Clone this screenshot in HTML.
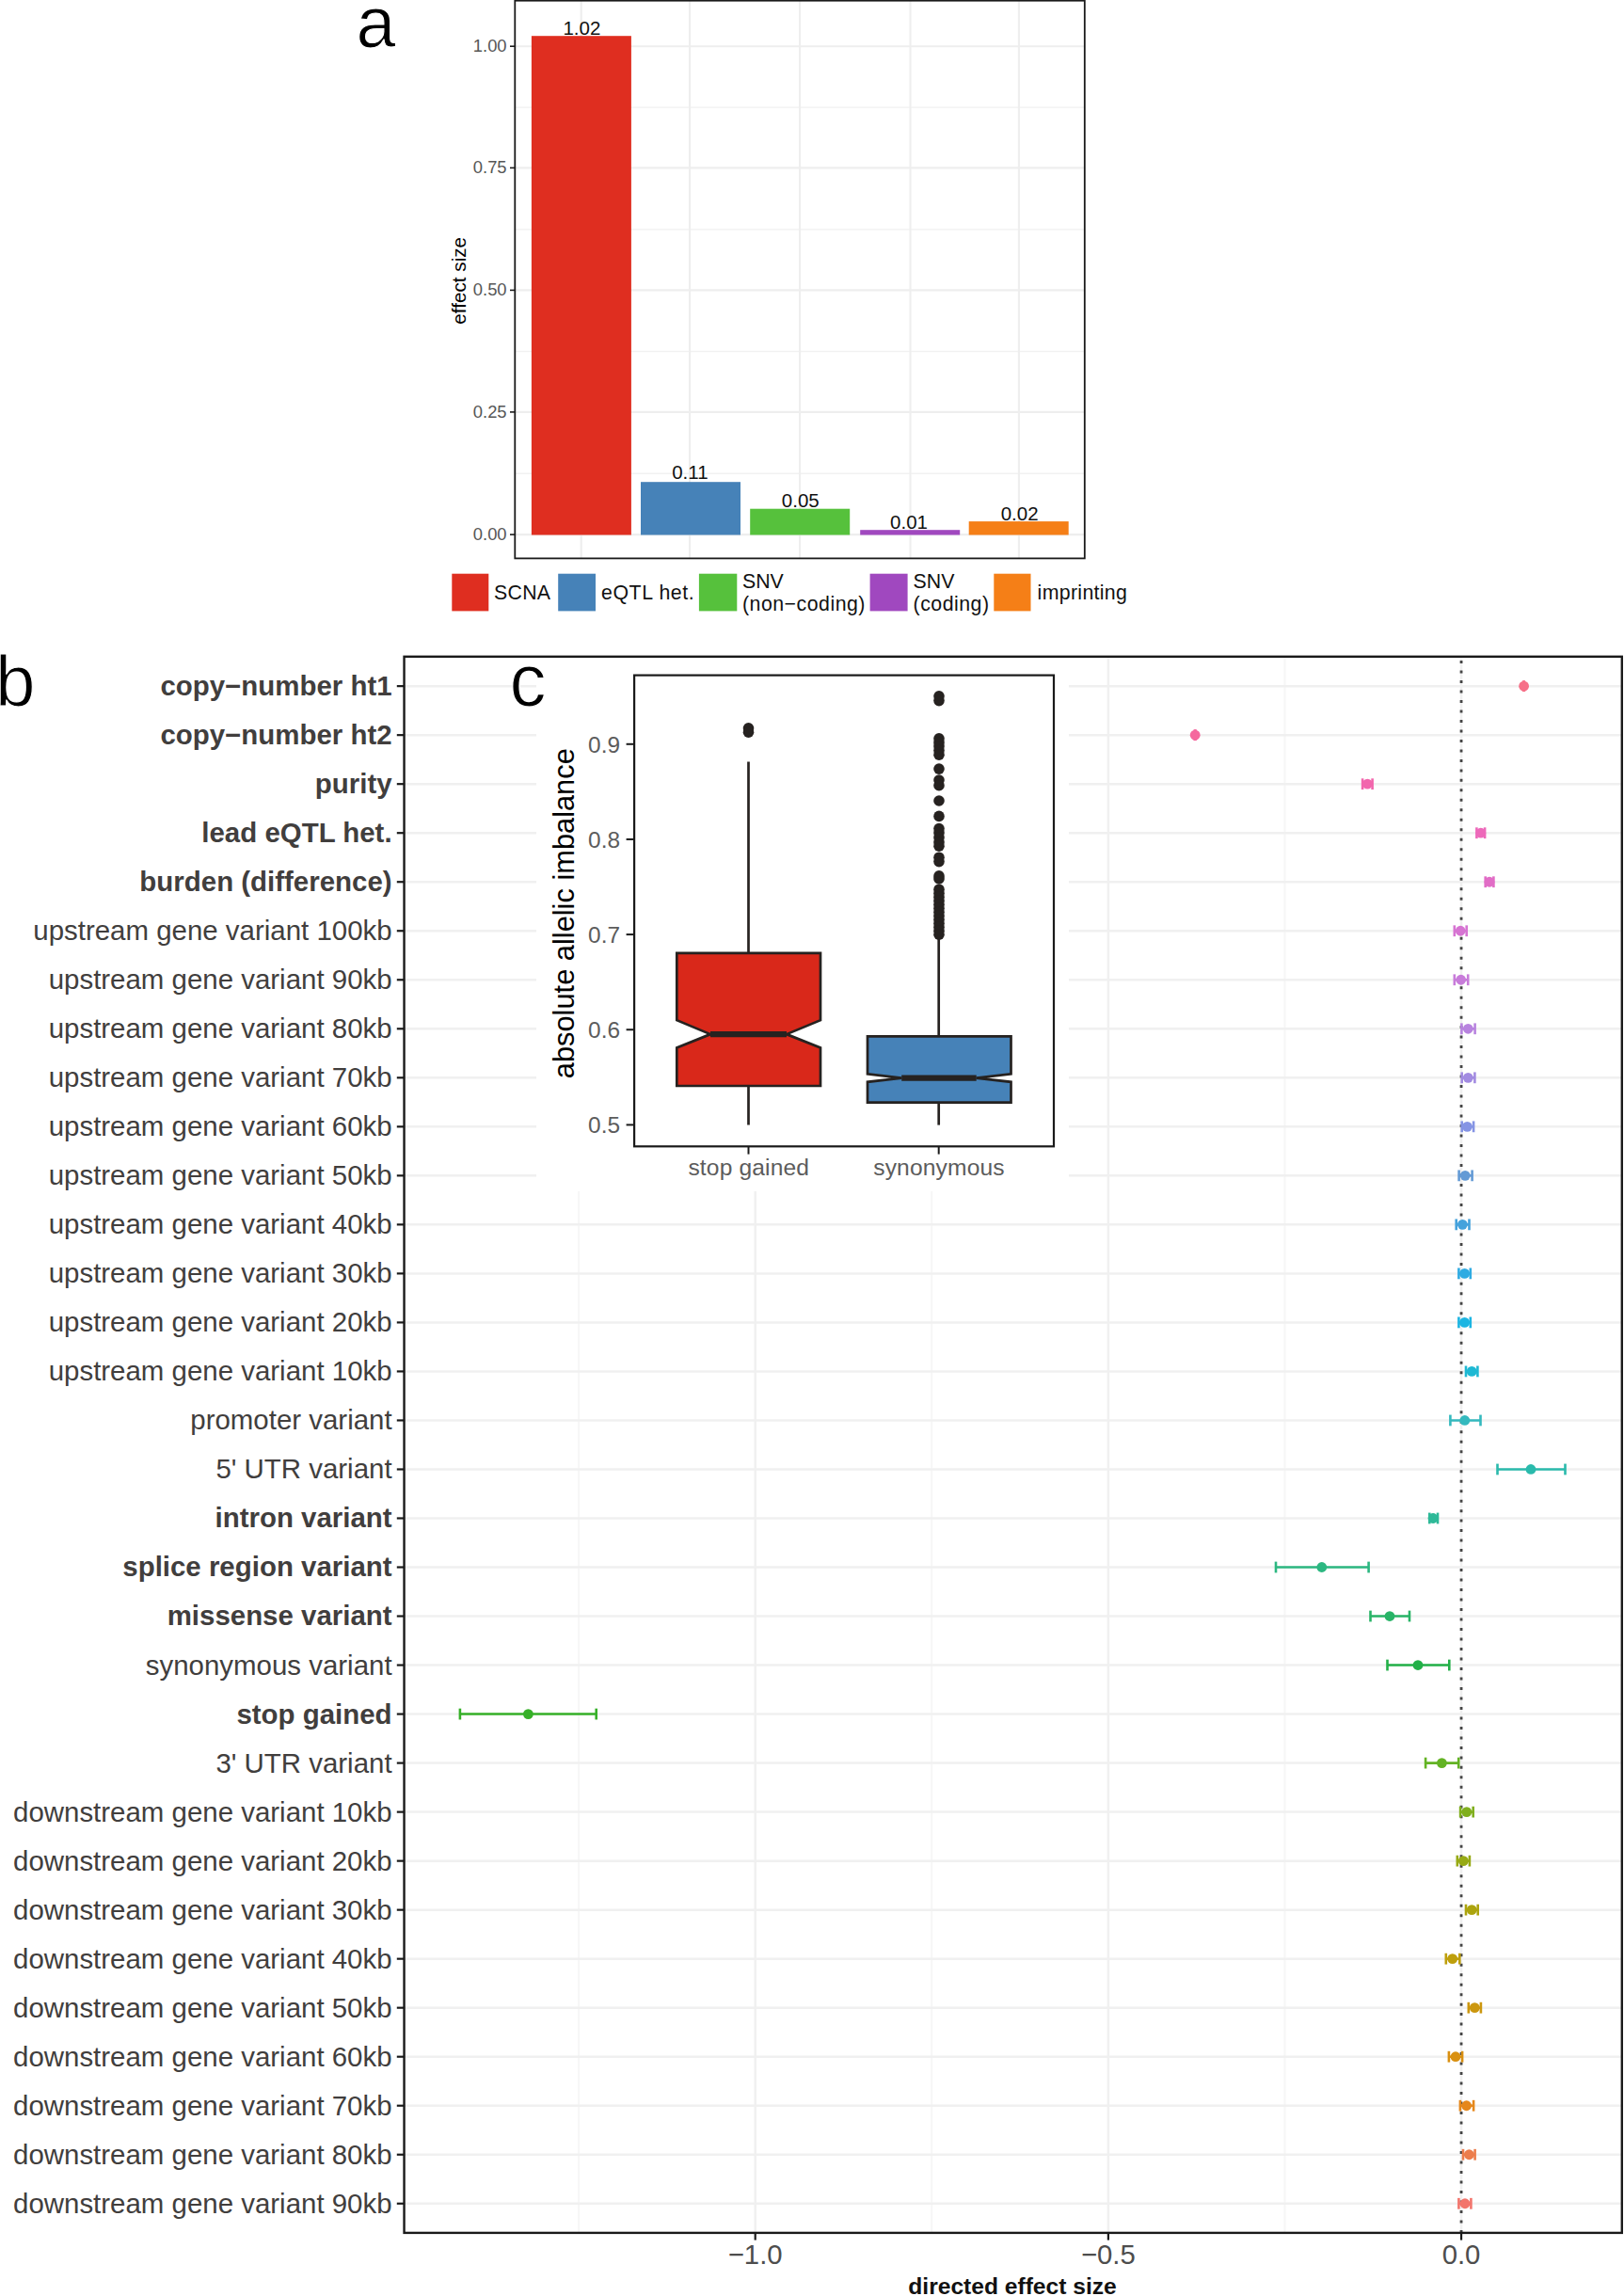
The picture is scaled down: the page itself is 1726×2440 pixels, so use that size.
<!DOCTYPE html>
<html lang="en"><head><meta charset="utf-8"><title>Figure</title>
<style>
html,body{margin:0;padding:0;background:#fff;}
body{width:1726px;height:2440px;overflow:hidden;}
svg{display:block;font-family:"Liberation Sans", sans-serif;}
</style></head><body>
<svg width="1726" height="2440" viewBox="0 0 1726 2440">
<rect width="1726" height="2440" fill="#fff"/>
<g id="panel-a">
<line x1="547.3" x2="1152.8" y1="503.24" y2="503.24" stroke="#F1F1F1" stroke-width="1.3"/>
<line x1="547.3" x2="1152.8" y1="373.51" y2="373.51" stroke="#F1F1F1" stroke-width="1.3"/>
<line x1="547.3" x2="1152.8" y1="243.79" y2="243.79" stroke="#F1F1F1" stroke-width="1.3"/>
<line x1="547.3" x2="1152.8" y1="114.06" y2="114.06" stroke="#F1F1F1" stroke-width="1.3"/>
<line x1="547.3" x2="1152.8" y1="568.10" y2="568.10" stroke="#EEEEEE" stroke-width="2.1"/>
<line x1="547.3" x2="1152.8" y1="437.90" y2="437.90" stroke="#EEEEEE" stroke-width="2.1"/>
<line x1="547.3" x2="1152.8" y1="308.40" y2="308.40" stroke="#EEEEEE" stroke-width="2.1"/>
<line x1="547.3" x2="1152.8" y1="178.40" y2="178.40" stroke="#EEEEEE" stroke-width="2.1"/>
<line x1="547.3" x2="1152.8" y1="49.20" y2="49.20" stroke="#EEEEEE" stroke-width="2.1"/>
<line x1="617.7" x2="617.7" y1="0.7" y2="593.4" stroke="#EEEEEE" stroke-width="2.1"/>
<line x1="733.1" x2="733.1" y1="0.7" y2="593.4" stroke="#EEEEEE" stroke-width="2.1"/>
<line x1="850.1" x2="850.1" y1="0.7" y2="593.4" stroke="#EEEEEE" stroke-width="2.1"/>
<line x1="967.5" x2="967.5" y1="0.7" y2="593.4" stroke="#EEEEEE" stroke-width="2.1"/>
<line x1="1082.9" x2="1082.9" y1="0.7" y2="593.4" stroke="#EEEEEE" stroke-width="2.1"/>
<rect x="564.9" y="38.2" width="106.0" height="530.3" fill="#DF2E20"/>
<text x="618.4" y="36.6" font-size="20.5" text-anchor="middle" fill="#111">1.02</text>
<rect x="681.0" y="512.2" width="106.0" height="56.3" fill="#4682B8"/>
<text x="733.4" y="509.0" font-size="20.5" text-anchor="middle" fill="#111">0.11</text>
<rect x="797.2" y="540.7" width="106.0" height="27.8" fill="#56C13C"/>
<text x="850.8" y="538.8" font-size="20.5" text-anchor="middle" fill="#111">0.05</text>
<rect x="914.2" y="563.2" width="106.0" height="5.3" fill="#A048BF"/>
<text x="966.0" y="561.6" font-size="20.5" text-anchor="middle" fill="#111">0.01</text>
<rect x="1029.7" y="554.1" width="106.0" height="14.4" fill="#F57F17"/>
<text x="1083.6" y="552.5" font-size="20.5" text-anchor="middle" fill="#111">0.02</text>
<rect x="547.3" y="0.7" width="605.5" height="592.7" fill="none" stroke="#1A1A1A" stroke-width="1.8"/>
<line x1="542" x2="547.3" y1="568.10" y2="568.10" stroke="#1A1A1A" stroke-width="1.6"/>
<text x="538.6" y="574.0" font-size="18.4" text-anchor="end" fill="#575757">0.00</text>
<line x1="542" x2="547.3" y1="437.90" y2="437.90" stroke="#1A1A1A" stroke-width="1.6"/>
<text x="538.6" y="443.8" font-size="18.4" text-anchor="end" fill="#575757">0.25</text>
<line x1="542" x2="547.3" y1="308.40" y2="308.40" stroke="#1A1A1A" stroke-width="1.6"/>
<text x="538.6" y="314.3" font-size="18.4" text-anchor="end" fill="#575757">0.50</text>
<line x1="542" x2="547.3" y1="178.40" y2="178.40" stroke="#1A1A1A" stroke-width="1.6"/>
<text x="538.6" y="184.3" font-size="18.4" text-anchor="end" fill="#575757">0.75</text>
<line x1="542" x2="547.3" y1="49.20" y2="49.20" stroke="#1A1A1A" stroke-width="1.6"/>
<text x="538.6" y="55.1" font-size="18.4" text-anchor="end" fill="#575757">1.00</text>
<text transform="translate(494.7,298.3) rotate(-90)" font-size="20.7" text-anchor="middle" fill="#000">effect size</text>
<rect x="480.3" y="609.7" width="39.0" height="39.7" fill="#DF2E20"/>
<rect x="593.2" y="609.7" width="39.8" height="39.7" fill="#4682B8"/>
<rect x="742.9" y="609.7" width="40.4" height="39.7" fill="#56C13C"/>
<rect x="924.6" y="609.7" width="40.0" height="39.7" fill="#A048BF"/>
<rect x="1056.3" y="609.7" width="39.2" height="39.7" fill="#F57F17"/>
<text x="525.0" y="637.3" font-size="21.3" letter-spacing="0.3" fill="#111">SCNA</text>
<text x="639.0" y="637.3" font-size="21.3" letter-spacing="0.6" fill="#111">eQTL het.</text>
<text x="789.0" y="624.9" font-size="21.3" fill="#111">SNV</text>
<text x="789.0" y="649.2" font-size="21.3" letter-spacing="0.5" fill="#111">(non−coding)</text>
<text x="970.6" y="624.9" font-size="21.3" fill="#111">SNV</text>
<text x="970.6" y="649.2" font-size="21.3" letter-spacing="0.5" fill="#111">(coding)</text>
<text x="1102.6" y="637.3" font-size="21.3" letter-spacing="0.33" fill="#111">imprinting</text>
</g>
<text x="378.6" y="49.6" font-size="75.5" fill="#000" stroke="#fff" stroke-width="1.1">a</text>
<g id="panel-b">
<line x1="615.11" x2="615.11" y1="697.8" y2="2372.9" stroke="#F6F6F6" stroke-width="2"/>
<line x1="990.29" x2="990.29" y1="697.8" y2="2372.9" stroke="#F6F6F6" stroke-width="2"/>
<line x1="1365.46" x2="1365.46" y1="697.8" y2="2372.9" stroke="#F6F6F6" stroke-width="2"/>
<line x1="802.70" x2="802.70" y1="697.8" y2="2372.9" stroke="#F0F0F0" stroke-width="2.5"/>
<line x1="1177.88" x2="1177.88" y1="697.8" y2="2372.9" stroke="#F0F0F0" stroke-width="2.5"/>
<line x1="1553.05" x2="1553.05" y1="697.8" y2="2372.9" stroke="#F0F0F0" stroke-width="2.5"/>
<line x1="429.55" x2="1723.8" y1="729.15" y2="729.15" stroke="#F0F0F0" stroke-width="2.5"/>
<line x1="429.55" x2="1723.8" y1="781.17" y2="781.17" stroke="#F0F0F0" stroke-width="2.5"/>
<line x1="429.55" x2="1723.8" y1="833.19" y2="833.19" stroke="#F0F0F0" stroke-width="2.5"/>
<line x1="429.55" x2="1723.8" y1="885.21" y2="885.21" stroke="#F0F0F0" stroke-width="2.5"/>
<line x1="429.55" x2="1723.8" y1="937.23" y2="937.23" stroke="#F0F0F0" stroke-width="2.5"/>
<line x1="429.55" x2="1723.8" y1="989.25" y2="989.25" stroke="#F0F0F0" stroke-width="2.5"/>
<line x1="429.55" x2="1723.8" y1="1041.27" y2="1041.27" stroke="#F0F0F0" stroke-width="2.5"/>
<line x1="429.55" x2="1723.8" y1="1093.29" y2="1093.29" stroke="#F0F0F0" stroke-width="2.5"/>
<line x1="429.55" x2="1723.8" y1="1145.31" y2="1145.31" stroke="#F0F0F0" stroke-width="2.5"/>
<line x1="429.55" x2="1723.8" y1="1197.33" y2="1197.33" stroke="#F0F0F0" stroke-width="2.5"/>
<line x1="429.55" x2="1723.8" y1="1249.35" y2="1249.35" stroke="#F0F0F0" stroke-width="2.5"/>
<line x1="429.55" x2="1723.8" y1="1301.37" y2="1301.37" stroke="#F0F0F0" stroke-width="2.5"/>
<line x1="429.55" x2="1723.8" y1="1353.39" y2="1353.39" stroke="#F0F0F0" stroke-width="2.5"/>
<line x1="429.55" x2="1723.8" y1="1405.41" y2="1405.41" stroke="#F0F0F0" stroke-width="2.5"/>
<line x1="429.55" x2="1723.8" y1="1457.43" y2="1457.43" stroke="#F0F0F0" stroke-width="2.5"/>
<line x1="429.55" x2="1723.8" y1="1509.45" y2="1509.45" stroke="#F0F0F0" stroke-width="2.5"/>
<line x1="429.55" x2="1723.8" y1="1561.47" y2="1561.47" stroke="#F0F0F0" stroke-width="2.5"/>
<line x1="429.55" x2="1723.8" y1="1613.49" y2="1613.49" stroke="#F0F0F0" stroke-width="2.5"/>
<line x1="429.55" x2="1723.8" y1="1665.51" y2="1665.51" stroke="#F0F0F0" stroke-width="2.5"/>
<line x1="429.55" x2="1723.8" y1="1717.53" y2="1717.53" stroke="#F0F0F0" stroke-width="2.5"/>
<line x1="429.55" x2="1723.8" y1="1769.55" y2="1769.55" stroke="#F0F0F0" stroke-width="2.5"/>
<line x1="429.55" x2="1723.8" y1="1821.57" y2="1821.57" stroke="#F0F0F0" stroke-width="2.5"/>
<line x1="429.55" x2="1723.8" y1="1873.59" y2="1873.59" stroke="#F0F0F0" stroke-width="2.5"/>
<line x1="429.55" x2="1723.8" y1="1925.61" y2="1925.61" stroke="#F0F0F0" stroke-width="2.5"/>
<line x1="429.55" x2="1723.8" y1="1977.63" y2="1977.63" stroke="#F0F0F0" stroke-width="2.5"/>
<line x1="429.55" x2="1723.8" y1="2029.65" y2="2029.65" stroke="#F0F0F0" stroke-width="2.5"/>
<line x1="429.55" x2="1723.8" y1="2081.67" y2="2081.67" stroke="#F0F0F0" stroke-width="2.5"/>
<line x1="429.55" x2="1723.8" y1="2133.69" y2="2133.69" stroke="#F0F0F0" stroke-width="2.5"/>
<line x1="429.55" x2="1723.8" y1="2185.71" y2="2185.71" stroke="#F0F0F0" stroke-width="2.5"/>
<line x1="429.55" x2="1723.8" y1="2237.73" y2="2237.73" stroke="#F0F0F0" stroke-width="2.5"/>
<line x1="429.55" x2="1723.8" y1="2289.75" y2="2289.75" stroke="#F0F0F0" stroke-width="2.5"/>
<line x1="429.55" x2="1723.8" y1="2341.77" y2="2341.77" stroke="#F0F0F0" stroke-width="2.5"/>
<line x1="1553.05" x2="1553.05" y1="2372.9" y2="697.8" stroke="#454545" stroke-width="2.8" stroke-dasharray="3 7.49"/>
<g id="b-data">
<g stroke="#F67088" stroke-width="2.6" fill="#F67088"><line x1="1619.2" x2="1620.0" y1="729.15" y2="729.15"/><line x1="1619.4" x2="1619.4" y1="723.25" y2="735.05"/><line x1="1619.8" x2="1619.8" y1="723.25" y2="735.05"/><circle cx="1619.6" cy="729.15" r="5.4" stroke="none"/></g>
<g stroke="#F5689E" stroke-width="2.6" fill="#F5689E"><line x1="1269.6" x2="1270.8" y1="781.17" y2="781.17"/><line x1="1269.8" x2="1269.8" y1="775.27" y2="787.07"/><line x1="1270.6" x2="1270.6" y1="775.27" y2="787.07"/><circle cx="1270.2" cy="781.17" r="5.4" stroke="none"/></g>
<g stroke="#F266AD" stroke-width="2.6" fill="#F266AD"><line x1="1447.9" x2="1458.8" y1="833.19" y2="833.19"/><line x1="1448.1" x2="1448.1" y1="827.29" y2="839.09"/><line x1="1458.6" x2="1458.6" y1="827.29" y2="839.09"/><circle cx="1453.3" cy="833.19" r="5.4" stroke="none"/></g>
<g stroke="#ED69BA" stroke-width="2.6" fill="#ED69BA"><line x1="1569.2" x2="1578.3" y1="885.21" y2="885.21"/><line x1="1569.4" x2="1569.4" y1="879.31" y2="891.11"/><line x1="1578.1" x2="1578.1" y1="879.31" y2="891.11"/><circle cx="1573.8" cy="885.21" r="5.4" stroke="none"/></g>
<g stroke="#E16DC6" stroke-width="2.6" fill="#E16DC6"><line x1="1578.5" x2="1587.6" y1="937.23" y2="937.23"/><line x1="1578.7" x2="1578.7" y1="931.33" y2="943.13"/><line x1="1587.4" x2="1587.4" y1="931.33" y2="943.13"/><circle cx="1583.0" cy="937.23" r="5.4" stroke="none"/></g>
<g stroke="#D674D2" stroke-width="2.6" fill="#D674D2"><line x1="1545.6" x2="1558.9" y1="989.25" y2="989.25"/><line x1="1545.8" x2="1545.8" y1="983.35" y2="995.15"/><line x1="1558.7" x2="1558.7" y1="983.35" y2="995.15"/><circle cx="1552.2" cy="989.25" r="5.4" stroke="none"/></g>
<g stroke="#C87CDA" stroke-width="2.6" fill="#C87CDA"><line x1="1545.6" x2="1560.4" y1="1041.27" y2="1041.27"/><line x1="1545.8" x2="1545.8" y1="1035.37" y2="1047.17"/><line x1="1560.2" x2="1560.2" y1="1035.37" y2="1047.17"/><circle cx="1552.7" cy="1041.27" r="5.4" stroke="none"/></g>
<g stroke="#B883DF" stroke-width="2.6" fill="#B883DF"><line x1="1553.2" x2="1567.8" y1="1093.29" y2="1093.29"/><line x1="1553.4" x2="1553.4" y1="1087.39" y2="1099.19"/><line x1="1567.6" x2="1567.6" y1="1087.39" y2="1099.19"/><circle cx="1560.3" cy="1093.29" r="5.4" stroke="none"/></g>
<g stroke="#A28BE1" stroke-width="2.6" fill="#A28BE1"><line x1="1553.5" x2="1567.6" y1="1145.31" y2="1145.31"/><line x1="1553.7" x2="1553.7" y1="1139.41" y2="1151.21"/><line x1="1567.4" x2="1567.4" y1="1139.41" y2="1151.21"/><circle cx="1560.3" cy="1145.31" r="5.4" stroke="none"/></g>
<g stroke="#8594E4" stroke-width="2.6" fill="#8594E4"><line x1="1553.5" x2="1566.3" y1="1197.33" y2="1197.33"/><line x1="1553.7" x2="1553.7" y1="1191.43" y2="1203.23"/><line x1="1566.1" x2="1566.1" y1="1191.43" y2="1203.23"/><circle cx="1559.4" cy="1197.33" r="5.4" stroke="none"/></g>
<g stroke="#639AD5" stroke-width="2.6" fill="#639AD5"><line x1="1550.4" x2="1564.8" y1="1249.35" y2="1249.35"/><line x1="1550.6" x2="1550.6" y1="1243.45" y2="1255.25"/><line x1="1564.6" x2="1564.6" y1="1243.45" y2="1255.25"/><circle cx="1557.2" cy="1249.35" r="5.4" stroke="none"/></g>
<g stroke="#45A2DC" stroke-width="2.6" fill="#45A2DC"><line x1="1547.5" x2="1561.7" y1="1301.37" y2="1301.37"/><line x1="1547.7" x2="1547.7" y1="1295.47" y2="1307.27"/><line x1="1561.5" x2="1561.5" y1="1295.47" y2="1307.27"/><circle cx="1554.4" cy="1301.37" r="5.4" stroke="none"/></g>
<g stroke="#2FABE2" stroke-width="2.6" fill="#2FABE2"><line x1="1550.2" x2="1563.0" y1="1353.39" y2="1353.39"/><line x1="1550.4" x2="1550.4" y1="1347.49" y2="1359.29"/><line x1="1562.8" x2="1562.8" y1="1347.49" y2="1359.29"/><circle cx="1556.6" cy="1353.39" r="5.4" stroke="none"/></g>
<g stroke="#1CB5E2" stroke-width="2.6" fill="#1CB5E2"><line x1="1550.2" x2="1563.0" y1="1405.41" y2="1405.41"/><line x1="1550.4" x2="1550.4" y1="1399.51" y2="1411.31"/><line x1="1562.8" x2="1562.8" y1="1399.51" y2="1411.31"/><circle cx="1556.6" cy="1405.41" r="5.4" stroke="none"/></g>
<g stroke="#1DB8D3" stroke-width="2.6" fill="#1DB8D3"><line x1="1557.8" x2="1570.6" y1="1457.43" y2="1457.43"/><line x1="1558.0" x2="1558.0" y1="1451.53" y2="1463.33"/><line x1="1570.4" x2="1570.4" y1="1451.53" y2="1463.33"/><circle cx="1564.2" cy="1457.43" r="5.4" stroke="none"/></g>
<g stroke="#34B9BE" stroke-width="2.6" fill="#34B9BE"><line x1="1541.2" x2="1573.7" y1="1509.45" y2="1509.45"/><line x1="1541.4" x2="1541.4" y1="1503.55" y2="1515.35"/><line x1="1573.5" x2="1573.5" y1="1503.55" y2="1515.35"/><circle cx="1556.8" cy="1509.45" r="5.4" stroke="none"/></g>
<g stroke="#2ABAAC" stroke-width="2.6" fill="#2ABAAC"><line x1="1591.3" x2="1663.7" y1="1561.47" y2="1561.47"/><line x1="1591.5" x2="1591.5" y1="1555.57" y2="1567.37"/><line x1="1663.5" x2="1663.5" y1="1555.57" y2="1567.37"/><circle cx="1627.0" cy="1561.47" r="5.4" stroke="none"/></g>
<g stroke="#2EB998" stroke-width="2.6" fill="#2EB998"><line x1="1519.1" x2="1528.2" y1="1613.49" y2="1613.49"/><line x1="1519.3" x2="1519.3" y1="1607.59" y2="1619.39"/><line x1="1528.0" x2="1528.0" y1="1607.59" y2="1619.39"/><circle cx="1523.0" cy="1613.49" r="5.4" stroke="none"/></g>
<g stroke="#2CB781" stroke-width="2.6" fill="#2CB781"><line x1="1355.8" x2="1454.8" y1="1665.51" y2="1665.51"/><line x1="1356.0" x2="1356.0" y1="1659.61" y2="1671.41"/><line x1="1454.6" x2="1454.6" y1="1659.61" y2="1671.41"/><circle cx="1404.8" cy="1665.51" r="5.4" stroke="none"/></g>
<g stroke="#28B467" stroke-width="2.6" fill="#28B467"><line x1="1456.3" x2="1498.2" y1="1717.53" y2="1717.53"/><line x1="1456.5" x2="1456.5" y1="1711.63" y2="1723.43"/><line x1="1498.0" x2="1498.0" y1="1711.63" y2="1723.43"/><circle cx="1477.0" cy="1717.53" r="5.4" stroke="none"/></g>
<g stroke="#22B048" stroke-width="2.6" fill="#22B048"><line x1="1474.3" x2="1540.5" y1="1769.55" y2="1769.55"/><line x1="1474.5" x2="1474.5" y1="1763.65" y2="1775.45"/><line x1="1540.3" x2="1540.3" y1="1763.65" y2="1775.45"/><circle cx="1507.0" cy="1769.55" r="5.4" stroke="none"/></g>
<g stroke="#36B028" stroke-width="2.6" fill="#36B028"><line x1="488.7" x2="633.9" y1="1821.57" y2="1821.57"/><line x1="488.9" x2="488.9" y1="1815.67" y2="1827.47"/><line x1="633.7" x2="633.7" y1="1815.67" y2="1827.47"/><circle cx="561.4" cy="1821.57" r="5.4" stroke="none"/></g>
<g stroke="#63B324" stroke-width="2.6" fill="#63B324"><line x1="1514.9" x2="1550.4" y1="1873.59" y2="1873.59"/><line x1="1515.1" x2="1515.1" y1="1867.69" y2="1879.49"/><line x1="1550.2" x2="1550.2" y1="1867.69" y2="1879.49"/><circle cx="1532.4" cy="1873.59" r="5.4" stroke="none"/></g>
<g stroke="#80AF1E" stroke-width="2.6" fill="#80AF1E"><line x1="1551.9" x2="1565.9" y1="1925.61" y2="1925.61"/><line x1="1552.1" x2="1552.1" y1="1919.71" y2="1931.51"/><line x1="1565.7" x2="1565.7" y1="1919.71" y2="1931.51"/><circle cx="1558.8" cy="1925.61" r="5.4" stroke="none"/></g>
<g stroke="#97AA15" stroke-width="2.6" fill="#97AA15"><line x1="1548.6" x2="1562.1" y1="1977.63" y2="1977.63"/><line x1="1548.8" x2="1548.8" y1="1971.73" y2="1983.53"/><line x1="1561.9" x2="1561.9" y1="1971.73" y2="1983.53"/><circle cx="1555.3" cy="1977.63" r="5.4" stroke="none"/></g>
<g stroke="#ACA40E" stroke-width="2.6" fill="#ACA40E"><line x1="1557.8" x2="1570.9" y1="2029.65" y2="2029.65"/><line x1="1558.0" x2="1558.0" y1="2023.75" y2="2035.55"/><line x1="1570.7" x2="1570.7" y1="2023.75" y2="2035.55"/><circle cx="1564.2" cy="2029.65" r="5.4" stroke="none"/></g>
<g stroke="#BE9F0C" stroke-width="2.6" fill="#BE9F0C"><line x1="1536.6" x2="1551.5" y1="2081.67" y2="2081.67"/><line x1="1536.8" x2="1536.8" y1="2075.77" y2="2087.57"/><line x1="1551.3" x2="1551.3" y1="2075.77" y2="2087.57"/><circle cx="1543.7" cy="2081.67" r="5.4" stroke="none"/></g>
<g stroke="#CC970F" stroke-width="2.6" fill="#CC970F"><line x1="1560.6" x2="1574.1" y1="2133.69" y2="2133.69"/><line x1="1560.8" x2="1560.8" y1="2127.79" y2="2139.59"/><line x1="1573.9" x2="1573.9" y1="2127.79" y2="2139.59"/><circle cx="1567.3" cy="2133.69" r="5.4" stroke="none"/></g>
<g stroke="#D99011" stroke-width="2.6" fill="#D99011"><line x1="1539.7" x2="1554.3" y1="2185.71" y2="2185.71"/><line x1="1539.9" x2="1539.9" y1="2179.81" y2="2191.61"/><line x1="1554.1" x2="1554.1" y1="2179.81" y2="2191.61"/><circle cx="1547.0" cy="2185.71" r="5.4" stroke="none"/></g>
<g stroke="#E5871B" stroke-width="2.6" fill="#E5871B"><line x1="1551.7" x2="1566.3" y1="2237.73" y2="2237.73"/><line x1="1551.9" x2="1551.9" y1="2231.83" y2="2243.63"/><line x1="1566.1" x2="1566.1" y1="2231.83" y2="2243.63"/><circle cx="1558.6" cy="2237.73" r="5.4" stroke="none"/></g>
<g stroke="#EC7D4C" stroke-width="2.6" fill="#EC7D4C"><line x1="1554.8" x2="1567.8" y1="2289.75" y2="2289.75"/><line x1="1555.0" x2="1555.0" y1="2283.85" y2="2295.65"/><line x1="1567.6" x2="1567.6" y1="2283.85" y2="2295.65"/><circle cx="1561.4" cy="2289.75" r="5.4" stroke="none"/></g>
<g stroke="#F2756C" stroke-width="2.6" fill="#F2756C"><line x1="1550.2" x2="1563.6" y1="2341.77" y2="2341.77"/><line x1="1550.4" x2="1550.4" y1="2335.87" y2="2347.67"/><line x1="1563.4" x2="1563.4" y1="2335.87" y2="2347.67"/><circle cx="1557.0" cy="2341.77" r="5.4" stroke="none"/></g>
</g>
</g>
<g id="panel-c">
<rect x="570" y="697.8" width="566" height="568.2" fill="#fff"/>
<line x1="795.5" x2="795.5" y1="809.5" y2="1195.6" stroke="#262220" stroke-width="2.7"/>
<line x1="997.7" x2="997.7" y1="998" y2="1195.6" stroke="#262220" stroke-width="2.7"/>
<polygon points="719.3,1012.9 872.0,1012.9 872.0,1084.2 836.0,1099.1 872.0,1113.4 872.0,1154.0 719.3,1154.0 719.3,1113.4 755.0,1099.1 719.3,1084.2" fill="#D9281A" stroke="#262220" stroke-width="2.7" stroke-linejoin="miter"/>
<line x1="755.0" x2="836.0" y1="1099.1" y2="1099.1" stroke="#262220" stroke-width="6.4"/>
<polygon points="922.0,1101.4 1074.5,1101.4 1074.5,1141.4 1037.7,1145.6 1074.5,1149.8 1074.5,1171.7 922.0,1171.7 922.0,1149.8 958.2,1145.6 922.0,1141.4" fill="#4682B8" stroke="#262220" stroke-width="2.7" stroke-linejoin="miter"/>
<line x1="958.2" x2="1037.7" y1="1145.6" y2="1145.6" stroke="#262220" stroke-width="6.4"/>
<g fill="#262220">
<circle cx="998" cy="739.8" r="5.8"/>
<circle cx="998" cy="744.6" r="5.8"/>
<circle cx="998" cy="784.8" r="5.8"/>
<circle cx="998" cy="789.0" r="5.8"/>
<circle cx="998" cy="793.0" r="5.8"/>
<circle cx="998" cy="797.5" r="5.8"/>
<circle cx="998" cy="802.2" r="5.8"/>
<circle cx="998" cy="817.1" r="5.8"/>
<circle cx="998" cy="829.0" r="5.8"/>
<circle cx="998" cy="834.7" r="5.8"/>
<circle cx="998" cy="851.0" r="5.8"/>
<circle cx="998" cy="867.4" r="5.8"/>
<circle cx="998" cy="880.6" r="5.8"/>
<circle cx="998" cy="885.0" r="5.8"/>
<circle cx="998" cy="890.0" r="5.8"/>
<circle cx="998" cy="895.0" r="5.8"/>
<circle cx="998" cy="899.2" r="5.8"/>
<circle cx="998" cy="911.2" r="5.8"/>
<circle cx="998" cy="915.6" r="5.8"/>
<circle cx="998" cy="930.9" r="5.8"/>
<circle cx="998" cy="934.0" r="5.8"/>
<circle cx="998" cy="945.2" r="5.8"/>
<circle cx="998" cy="949.2" r="5.8"/>
<circle cx="998" cy="953.2" r="5.8"/>
<circle cx="998" cy="957.2" r="5.8"/>
<circle cx="998" cy="961.2" r="5.8"/>
<circle cx="998" cy="965.2" r="5.8"/>
<circle cx="998" cy="969.2" r="5.8"/>
<circle cx="998" cy="973.2" r="5.8"/>
<circle cx="998" cy="977.2" r="5.8"/>
<circle cx="998" cy="981.2" r="5.8"/>
<circle cx="998" cy="985.2" r="5.8"/>
<circle cx="998" cy="989.2" r="5.8"/>
<circle cx="998" cy="993.2" r="5.8"/>
<circle cx="795.5" cy="773.8" r="5.8"/><circle cx="795.5" cy="778.2" r="5.8"/>
</g>
<rect x="674.1" y="717.6" width="445.9" height="500.7" fill="none" stroke="#1A1A1A" stroke-width="2.2"/>
<line x1="665.6" x2="674.1" y1="1195.40" y2="1195.40" stroke="#1A1A1A" stroke-width="2"/>
<text x="659.0" y="1204.4" font-size="24.4" text-anchor="end" fill="#5C5C5C">0.5</text>
<line x1="665.6" x2="674.1" y1="1094.25" y2="1094.25" stroke="#1A1A1A" stroke-width="2"/>
<text x="659.0" y="1103.2" font-size="24.4" text-anchor="end" fill="#5C5C5C">0.6</text>
<line x1="665.6" x2="674.1" y1="993.10" y2="993.10" stroke="#1A1A1A" stroke-width="2"/>
<text x="659.0" y="1002.1" font-size="24.4" text-anchor="end" fill="#5C5C5C">0.7</text>
<line x1="665.6" x2="674.1" y1="891.95" y2="891.95" stroke="#1A1A1A" stroke-width="2"/>
<text x="659.0" y="901.0" font-size="24.4" text-anchor="end" fill="#5C5C5C">0.8</text>
<line x1="665.6" x2="674.1" y1="790.80" y2="790.80" stroke="#1A1A1A" stroke-width="2"/>
<text x="659.0" y="799.8" font-size="24.4" text-anchor="end" fill="#5C5C5C">0.9</text>
<line x1="795.5" x2="795.5" y1="1218.3" y2="1226.6" stroke="#1A1A1A" stroke-width="2"/>
<text x="795.8" y="1249.3" font-size="24.6" letter-spacing="0.15" text-anchor="middle" fill="#5C5C5C">stop gained</text>
<line x1="997.7" x2="997.7" y1="1218.3" y2="1226.6" stroke="#1A1A1A" stroke-width="2"/>
<text x="998.0" y="1249.3" font-size="24.6" letter-spacing="0.15" text-anchor="middle" fill="#5C5C5C">synonymous</text>
<text transform="translate(609.7,970.7) rotate(-90)" font-size="30.8" text-anchor="middle" fill="#000">absolute allelic imbalance</text>
<text x="541.4" y="749.6" font-size="78" fill="#000" stroke="#fff" stroke-width="1.1">c</text>
</g>
<g id="b-axes">
<rect x="429.55" y="697.8" width="1294.25" height="1675.10" fill="none" stroke="#1A1A1A" stroke-width="2.4"/>
<line x1="421.8" x2="429.55" y1="729.15" y2="729.15" stroke="#1A1A1A" stroke-width="2.2"/>
<text x="416.6" y="739.0" font-size="29.45" text-anchor="end" fill="#413E3D" font-weight="bold">copy−number ht1</text>
<line x1="421.8" x2="429.55" y1="781.17" y2="781.17" stroke="#1A1A1A" stroke-width="2.2"/>
<text x="416.6" y="791.1" font-size="29.45" text-anchor="end" fill="#413E3D" font-weight="bold">copy−number ht2</text>
<line x1="421.8" x2="429.55" y1="833.19" y2="833.19" stroke="#1A1A1A" stroke-width="2.2"/>
<text x="416.6" y="843.1" font-size="29.45" text-anchor="end" fill="#413E3D" font-weight="bold">purity</text>
<line x1="421.8" x2="429.55" y1="885.21" y2="885.21" stroke="#1A1A1A" stroke-width="2.2"/>
<text x="416.6" y="895.1" font-size="29.45" text-anchor="end" fill="#413E3D" font-weight="bold">lead eQTL het.</text>
<line x1="421.8" x2="429.55" y1="937.23" y2="937.23" stroke="#1A1A1A" stroke-width="2.2"/>
<text x="416.6" y="947.1" font-size="29.45" text-anchor="end" fill="#413E3D" font-weight="bold">burden (difference)</text>
<line x1="421.8" x2="429.55" y1="989.25" y2="989.25" stroke="#1A1A1A" stroke-width="2.2"/>
<text x="416.6" y="999.1" font-size="29.45" text-anchor="end" fill="#413E3D">upstream gene variant 100kb</text>
<line x1="421.8" x2="429.55" y1="1041.27" y2="1041.27" stroke="#1A1A1A" stroke-width="2.2"/>
<text x="416.6" y="1051.2" font-size="29.45" text-anchor="end" fill="#413E3D">upstream gene variant 90kb</text>
<line x1="421.8" x2="429.55" y1="1093.29" y2="1093.29" stroke="#1A1A1A" stroke-width="2.2"/>
<text x="416.6" y="1103.2" font-size="29.45" text-anchor="end" fill="#413E3D">upstream gene variant 80kb</text>
<line x1="421.8" x2="429.55" y1="1145.31" y2="1145.31" stroke="#1A1A1A" stroke-width="2.2"/>
<text x="416.6" y="1155.2" font-size="29.45" text-anchor="end" fill="#413E3D">upstream gene variant 70kb</text>
<line x1="421.8" x2="429.55" y1="1197.33" y2="1197.33" stroke="#1A1A1A" stroke-width="2.2"/>
<text x="416.6" y="1207.2" font-size="29.45" text-anchor="end" fill="#413E3D">upstream gene variant 60kb</text>
<line x1="421.8" x2="429.55" y1="1249.35" y2="1249.35" stroke="#1A1A1A" stroke-width="2.2"/>
<text x="416.6" y="1259.2" font-size="29.45" text-anchor="end" fill="#413E3D">upstream gene variant 50kb</text>
<line x1="421.8" x2="429.55" y1="1301.37" y2="1301.37" stroke="#1A1A1A" stroke-width="2.2"/>
<text x="416.6" y="1311.3" font-size="29.45" text-anchor="end" fill="#413E3D">upstream gene variant 40kb</text>
<line x1="421.8" x2="429.55" y1="1353.39" y2="1353.39" stroke="#1A1A1A" stroke-width="2.2"/>
<text x="416.6" y="1363.3" font-size="29.45" text-anchor="end" fill="#413E3D">upstream gene variant 30kb</text>
<line x1="421.8" x2="429.55" y1="1405.41" y2="1405.41" stroke="#1A1A1A" stroke-width="2.2"/>
<text x="416.6" y="1415.3" font-size="29.45" text-anchor="end" fill="#413E3D">upstream gene variant 20kb</text>
<line x1="421.8" x2="429.55" y1="1457.43" y2="1457.43" stroke="#1A1A1A" stroke-width="2.2"/>
<text x="416.6" y="1467.3" font-size="29.45" text-anchor="end" fill="#413E3D">upstream gene variant 10kb</text>
<line x1="421.8" x2="429.55" y1="1509.45" y2="1509.45" stroke="#1A1A1A" stroke-width="2.2"/>
<text x="416.6" y="1519.4" font-size="29.45" text-anchor="end" fill="#413E3D">promoter variant</text>
<line x1="421.8" x2="429.55" y1="1561.47" y2="1561.47" stroke="#1A1A1A" stroke-width="2.2"/>
<text x="416.6" y="1571.4" font-size="29.45" text-anchor="end" fill="#413E3D">5' UTR variant</text>
<line x1="421.8" x2="429.55" y1="1613.49" y2="1613.49" stroke="#1A1A1A" stroke-width="2.2"/>
<text x="416.6" y="1623.4" font-size="29.45" text-anchor="end" fill="#413E3D" font-weight="bold">intron variant</text>
<line x1="421.8" x2="429.55" y1="1665.51" y2="1665.51" stroke="#1A1A1A" stroke-width="2.2"/>
<text x="416.6" y="1675.4" font-size="29.45" text-anchor="end" fill="#413E3D" font-weight="bold">splice region variant</text>
<line x1="421.8" x2="429.55" y1="1717.53" y2="1717.53" stroke="#1A1A1A" stroke-width="2.2"/>
<text x="416.6" y="1727.4" font-size="29.45" text-anchor="end" fill="#413E3D" font-weight="bold">missense variant</text>
<line x1="421.8" x2="429.55" y1="1769.55" y2="1769.55" stroke="#1A1A1A" stroke-width="2.2"/>
<text x="416.6" y="1779.5" font-size="29.45" text-anchor="end" fill="#413E3D">synonymous variant</text>
<line x1="421.8" x2="429.55" y1="1821.57" y2="1821.57" stroke="#1A1A1A" stroke-width="2.2"/>
<text x="416.6" y="1831.5" font-size="29.45" text-anchor="end" fill="#413E3D" font-weight="bold">stop gained</text>
<line x1="421.8" x2="429.55" y1="1873.59" y2="1873.59" stroke="#1A1A1A" stroke-width="2.2"/>
<text x="416.6" y="1883.5" font-size="29.45" text-anchor="end" fill="#413E3D">3' UTR variant</text>
<line x1="421.8" x2="429.55" y1="1925.61" y2="1925.61" stroke="#1A1A1A" stroke-width="2.2"/>
<text x="416.6" y="1935.5" font-size="29.45" text-anchor="end" fill="#413E3D">downstream gene variant 10kb</text>
<line x1="421.8" x2="429.55" y1="1977.63" y2="1977.63" stroke="#1A1A1A" stroke-width="2.2"/>
<text x="416.6" y="1987.5" font-size="29.45" text-anchor="end" fill="#413E3D">downstream gene variant 20kb</text>
<line x1="421.8" x2="429.55" y1="2029.65" y2="2029.65" stroke="#1A1A1A" stroke-width="2.2"/>
<text x="416.6" y="2039.6" font-size="29.45" text-anchor="end" fill="#413E3D">downstream gene variant 30kb</text>
<line x1="421.8" x2="429.55" y1="2081.67" y2="2081.67" stroke="#1A1A1A" stroke-width="2.2"/>
<text x="416.6" y="2091.6" font-size="29.45" text-anchor="end" fill="#413E3D">downstream gene variant 40kb</text>
<line x1="421.8" x2="429.55" y1="2133.69" y2="2133.69" stroke="#1A1A1A" stroke-width="2.2"/>
<text x="416.6" y="2143.6" font-size="29.45" text-anchor="end" fill="#413E3D">downstream gene variant 50kb</text>
<line x1="421.8" x2="429.55" y1="2185.71" y2="2185.71" stroke="#1A1A1A" stroke-width="2.2"/>
<text x="416.6" y="2195.6" font-size="29.45" text-anchor="end" fill="#413E3D">downstream gene variant 60kb</text>
<line x1="421.8" x2="429.55" y1="2237.73" y2="2237.73" stroke="#1A1A1A" stroke-width="2.2"/>
<text x="416.6" y="2247.6" font-size="29.45" text-anchor="end" fill="#413E3D">downstream gene variant 70kb</text>
<line x1="421.8" x2="429.55" y1="2289.75" y2="2289.75" stroke="#1A1A1A" stroke-width="2.2"/>
<text x="416.6" y="2299.7" font-size="29.45" text-anchor="end" fill="#413E3D">downstream gene variant 80kb</text>
<line x1="421.8" x2="429.55" y1="2341.77" y2="2341.77" stroke="#1A1A1A" stroke-width="2.2"/>
<text x="416.6" y="2351.7" font-size="29.45" text-anchor="end" fill="#413E3D">downstream gene variant 90kb</text>
<line x1="802.70" x2="802.70" y1="2372.9" y2="2380.6" stroke="#1A1A1A" stroke-width="2.2"/>
<text x="802.7" y="2406" font-size="29.3" text-anchor="middle" fill="#4D4D4D">−1.0</text>
<line x1="1177.88" x2="1177.88" y1="2372.9" y2="2380.6" stroke="#1A1A1A" stroke-width="2.2"/>
<text x="1177.9" y="2406" font-size="29.3" text-anchor="middle" fill="#4D4D4D">−0.5</text>
<line x1="1553.05" x2="1553.05" y1="2372.9" y2="2380.6" stroke="#1A1A1A" stroke-width="2.2"/>
<text x="1553.0" y="2406" font-size="29.3" text-anchor="middle" fill="#4D4D4D">0.0</text>
<text x="1076" y="2438.3" font-size="24.6" font-weight="bold" text-anchor="middle" fill="#111">directed effect size</text>
<text x="-5.0" y="750.3" font-size="76.5" fill="#000" stroke="#fff" stroke-width="1.1">b</text>
</g>
</svg>
</body></html>
